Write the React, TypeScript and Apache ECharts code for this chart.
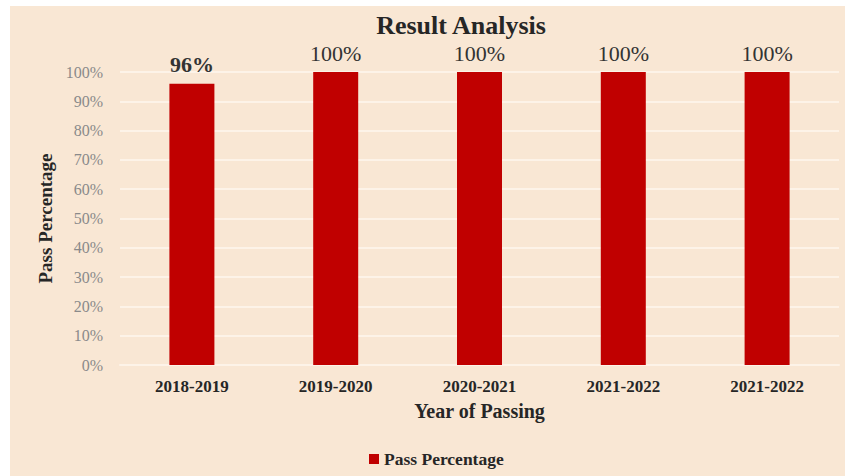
import React, { useEffect, useRef } from "react";
import * as echarts from "echarts";

const categories = ["2018-2019", "2019-2020", "2020-2021", "2021-2022", "2021-2022"];
const passPercent = [96, 100, 100, 100, 100];
const yTicks = [0, 10, 20, 30, 40, 50, 60, 70, 80, 90, 100];

const FONT = "'Palatino Linotype', 'Book Antiqua', Palatino, 'Liberation Serif', serif";

export default function App() {
  const ref = useRef<HTMLDivElement>(null);
  useEffect(() => {
    document.body.style.margin = "0";
    const chart = echarts.init(ref.current!, null, { renderer: "svg" });
    chart.setOption({
      animation: false,
      backgroundColor: "#ffffff",
      graphic: [
        {
          type: "rect",
          shape: { x: 10, y: 6, width: 835, height: 470 },
          style: { fill: "#f9e7d4" },
          z: -10,
          silent: true,
        },
      ],
      title: {
        text: "Result Analysis",
        left: 456,
        top: 6,
        textAlign: "center",
        textStyle: { fontFamily: FONT, fontSize: 26, lineHeight: 28, fontWeight: "bold", color: "#262626" },
      },
      legend: {
        data: ["Pass Percentage"],
        left: 364,
        top: 445,
        itemWidth: 10,
        itemHeight: 10,
        itemGap: 5,
        icon: "rect",
        textStyle: { fontFamily: FONT, fontSize: 17.5, fontWeight: "bold", color: "#262626" },
      },
      grid: { left: 120, right: 6, top: 72, bottom: 111, containLabel: false },
      xAxis: {
        type: "category",
        data: categories,
        name: "Year of Passing",
        nameLocation: "middle",
        nameGap: 36,
        nameTextStyle: { fontFamily: FONT, fontSize: 20, fontWeight: "bold", color: "#262626" },
        axisLine: { show: true, lineStyle: { color: "#fdf3e8", width: 2 } },
        axisTick: { show: false },
        axisLabel: { fontFamily: FONT, fontSize: 17, fontWeight: "bold", color: "#262626", margin: 13 },
      },
      yAxis: {
        type: "value",
        min: 0,
        max: 100,
        interval: 10,
        name: "Pass Percentage",
        nameLocation: "middle",
        nameGap: 64,
        nameTextStyle: { fontFamily: FONT, fontSize: 19, fontWeight: "bold", color: "#262626" },
        axisLine: { show: false },
        axisTick: { show: false },
        axisLabel: {
          fontFamily: FONT,
          fontSize: 16,
          color: "#8a8a8a",
          margin: 17,
          formatter: (v: number) => (yTicks.includes(v) ? v + "%" : ""),
        },
        splitLine: { lineStyle: { color: "#fdf3e8", width: 2 } },
      },
      series: [
        {
          name: "Pass Percentage",
          type: "bar",
          data: passPercent.map((v, i) => ({
            value: v,
            label: { fontWeight: i === 0 ? "bold" : "normal" },
          })),
          barWidth: 45,
          itemStyle: { color: "#c00000" },
          label: {
            show: true,
            position: "top",
            distance: 8,
            formatter: (p: any) => p.value + "%",
            fontFamily: FONT,
            fontSize: 22,
            lineHeight: 22,
            color: "#333333",
          },
        },
      ],
    });
    return () => chart.dispose();
  }, []);
  return <div ref={ref} style={{ width: 845, height: 476 }} />;
}
